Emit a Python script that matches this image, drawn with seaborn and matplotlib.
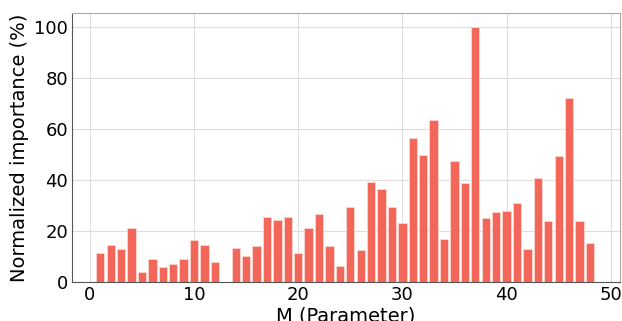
import numpy as np
import pandas as pd
import matplotlib
matplotlib.use("Agg")
import matplotlib.pyplot as plt
import seaborn as sns

# parameter index (M = 13 has no bar)
m_values = [1, 2, 3, 4, 5, 6, 7, 8, 9, 10, 11, 12,
            14, 15, 16, 17, 18, 19, 20, 21, 22, 23, 24, 25,
            26, 27, 28, 29, 30, 31, 32, 33, 34, 35, 36, 37,
            38, 39, 40, 41, 42, 43, 44, 45, 46, 47, 48]
importance = [11.5, 14.6, 12.8, 21.3, 3.8, 9.0, 5.9, 6.9, 9.0, 16.3, 14.5, 7.6,
              13.3, 10.2, 14.1, 25.4, 24.4, 25.4, 11.3, 21.1, 26.5, 14.1, 6.1, 29.2,
              12.4, 39.1, 36.4, 29.2, 22.9, 56.3, 49.8, 63.5, 16.8, 47.3, 38.9, 100.0,
              25.2, 27.5, 27.8, 30.9, 12.9, 40.9, 24.0, 49.4, 72.1, 23.9, 15.1]

df = pd.DataFrame({"M": m_values, "importance": importance})

sns.set_style("whitegrid")
plt.rcParams['font.family'] = ['DejaVu Sans']
plt.rcParams['text.color'] = 'black'
plt.rcParams['axes.labelcolor'] = 'black'
plt.rcParams['xtick.color'] = 'black'
plt.rcParams['ytick.color'] = 'black'

fig, ax = plt.subplots(figsize=(6.22, 3.21), dpi=100)
sns.barplot(data=df, x="M", y="importance", native_scale=True, color="#f2675a",
            saturation=1, width=0.8, edgecolor="#fbd6d2", linewidth=0.6, ax=ax)

ax.set_xlim(-1.7, 50.9)
ax.set_ylim(0, 105.5)
ax.set_xticks([0, 10, 20, 30, 40, 50])
ax.set_yticks([0, 20, 40, 60, 80, 100])
ax.tick_params(labelsize=13, length=0, pad=3)
ax.set_xlabel("M (Parameter)", fontsize=14, labelpad=2)
ax.set_ylabel("Normalized importance (%)", fontsize=14)
ax.grid(True, color="#dddddd", linewidth=0.8)
for side in ["left", "bottom"]:
    ax.spines[side].set_color("#555555")
for side in ["top", "right"]:
    ax.spines[side].set_color("#aaaaaa")

fig.subplots_adjust(left=0.116, right=0.997, top=0.96, bottom=0.122)
fig.savefig("out.png", dpi=100)
